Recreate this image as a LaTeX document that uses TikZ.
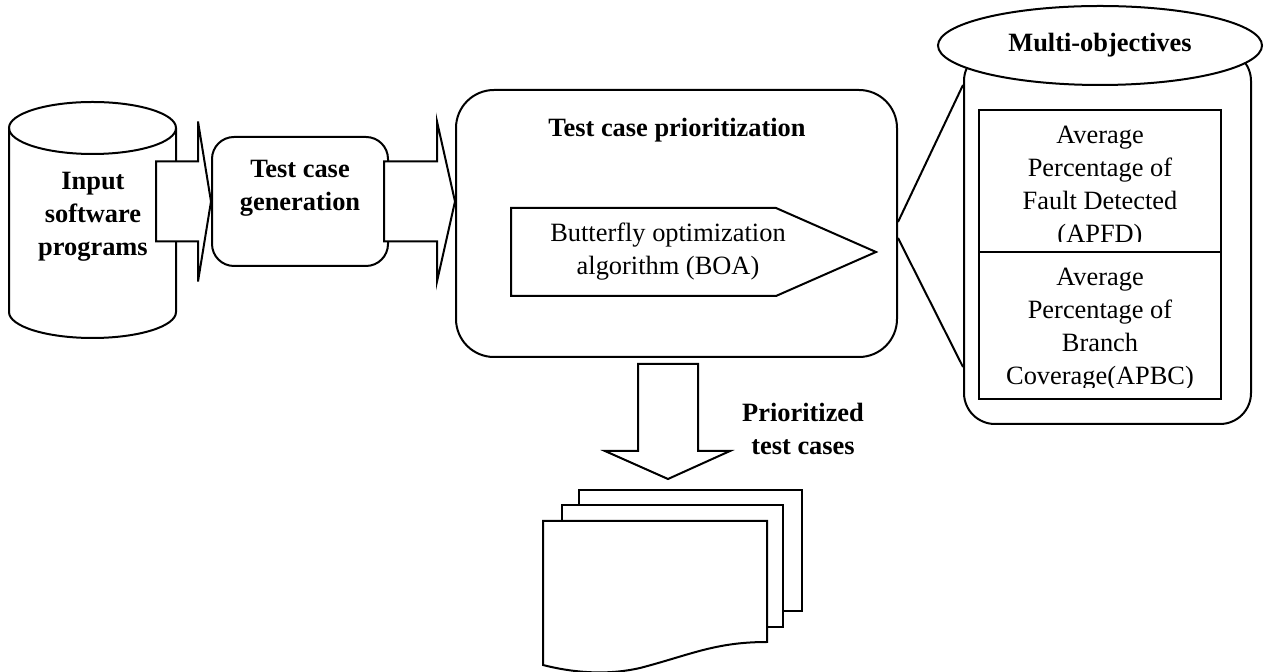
\documentclass[tikz,border=0pt]{standalone}
\usepackage{fontspec}
\setmainfont{Liberation Serif}
\usetikzlibrary{calc,positioning,shapes.geometric}
\newcommand\figfont{\fontsize{13.2pt}{16.5pt}\selectfont}
\tikzset{
 outline/.style={draw,line width=1pt},
 procbox/.style={outline,fill=white,inner sep=0pt},
 heading/.style={font=\figfont\bfseries,align=center},
 bodytext/.style={font=\figfont,align=center},
 fatarrow/.style={outline,fill=white,line join=miter},
 sheet/.style={outline,fill=white}
}

\begin{document}
\begin{tikzpicture}[x=0.5pt,y=-0.5pt]
\useasboundingbox (0,0) rectangle (1264,672);

% input programs (cylinder)
\draw[outline,fill=white] (9,128) -- (9,312) arc[start angle=180,end angle=0,x radius=83.5,y radius=26] -- (176,128);
\draw[outline] (92.5,128) ellipse[x radius=83.5,y radius=26];
\node[heading] (input) at (93,217) {Input\\software\\programs};

% generation step
\node[procbox,rounded corners=11pt,minimum width=88pt,minimum height=64.5pt] (gen) at (300,201.5) {};
\node[heading] (gentext) at (300,188) {Test case\\generation};

% prioritization step with the BOA inside
\node[procbox,rounded corners=19pt,minimum width=220.5pt,minimum height=133.5pt] (prio) at (676.5,223.5) {};
\node[heading] (priotext) at (677,130) {Test case prioritization};
\draw[outline] (511,208) -- (776,208) -- (876,252) -- (776,296) -- (511,296) -- cycle;
\node[bodytext] (boa) at (668,252) {Butterfly optimization\\algorithm (BOA)};

% block arrows between the steps
\draw[fatarrow] ($(gen.west)+(-55,-40)$) -| ($(gen.west)+(-13,-80)$) -- (gen.west)
  -- ($(gen.west)+(-13,80)$) |- ($(gen.west)+(-55,40)$) -- cycle;
\coordinate (a2tip) at (prio.west |- gen.west);
\draw[fatarrow] ($(a2tip)+(-71,-40)$) -| ($(a2tip)+(-18,-80)$) -- (a2tip)
  -- ($(a2tip)+(-18,80)$) |- ($(a2tip)+(-71,40)$) -- cycle;

% objectives
\node[procbox,rounded corners=15.5pt,minimum width=143.5pt,minimum height=187pt] (obj) at (1107.5,237) {};
\draw[outline] ($(prio.east)+(0,-1.5)$) -- ($(obj.west)+(0,-152)$);
\draw[outline] ($(prio.east)+(0,14.5)$) -- ($(obj.west)+(0,130)$);
\node[ellipse,procbox,minimum width=162pt,minimum height=39.5pt,font=\figfont\bfseries] (multi) at (1100,45.5) {Multi-objectives};

\node[procbox,minimum width=121pt,minimum height=71pt] (apfd) at (1100,181) {};
\begin{scope}
 \clip (979,110) rectangle (1221,242);
 \node[bodytext] (apfdtext) at (1100,187) {Average\\Percentage of\\Fault Detected\\(APFD)};
\end{scope}
\node[procbox,minimum width=121pt,minimum height=73.5pt] (apbc) at (1100,325.5) {};
\begin{scope}
 \clip (979,252) rectangle (1221,388);
 \node[bodytext] (apbctext) at (1100,329) {Average\\Percentage of\\Branch\\Coverage(APBC)};
\end{scope}

% output arrow and document stack
\coordinate (a3tip) at (668,479);
\draw[fatarrow] ($(a3tip)+(-30,-115)$) -- ($(a3tip)+(30,-115)$) |- ($(a3tip)+(62,-28)$) -- (a3tip)
  -- ($(a3tip)+(-63,-28)$) -- ($(a3tip)+(-30,-28)$) -- cycle;
\node[heading] (outlabel) at (803,429) {Prioritized\\test cases};

\draw[sheet] (579,490) rectangle (802,611);
\draw[sheet] (562,505) rectangle (783,627);
\draw[sheet] (543,521) -- (767,521) -- (767,642) .. controls (715,642) and (690,655) .. (640,668)
  .. controls (605,676) and (570,672) .. (543,665) -- cycle;
\end{tikzpicture}
\end{document}
